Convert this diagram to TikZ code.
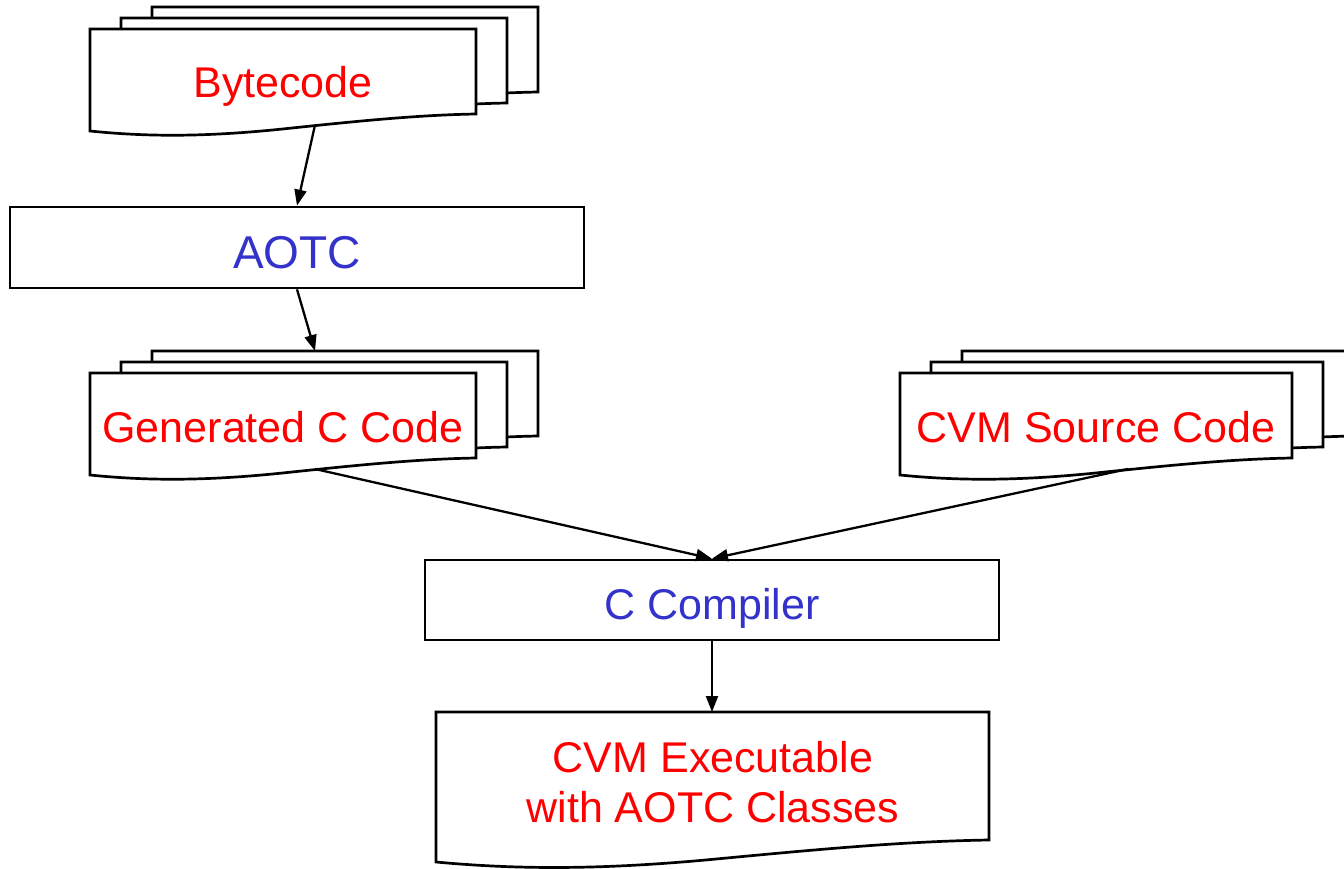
\documentclass[tikz,border=0pt]{standalone}
\usepackage{fontspec}
\setmainfont{Liberation Sans}
\usetikzlibrary{arrows.meta}

\definecolor{labelred}{RGB}{255,0,0}
\definecolor{labelblue}{RGB}{51,51,204}

% one sheet of a document stack: left x, top y, width, left height, right height
\newcommand\docpage[5]{%
  \begin{scope}[shift={(#1,#2)}]
    \pgfmathsetmacro\pgw{#3}%
    \pgfmathsetmacro\pgl{#4}%
    \pgfmathsetmacro\pgr{#5}%
    \pgfmathsetmacro\pgd{#4-#5}%
    \filldraw[page] (0,0) -- (\pgw,0) -- (\pgw,\pgr)
      .. controls ({0.85*\pgw},{\pgr+0.06*\pgd}) and ({0.7*\pgw},{\pgl-0.6*\pgd}) .. ({0.5*\pgw},{\pgl-0.12*\pgd})
      .. controls ({0.3*\pgw},{\pgl+0.35*\pgd}) and ({0.15*\pgw},{\pgl+0.35*\pgd}) .. (0,\pgl) -- cycle;
  \end{scope}}

\tikzset{
  page/.style={draw=black, fill=white, line width=2.7pt, line join=miter},
  procbox/.style={draw=black, fill=white, line width=2.7pt, rectangle, inner sep=0pt},
  doclabel/.style={text=labelred, font=\fontsize{43}{50}\selectfont, anchor=base, align=center},
  proclabel/.style={text=labelblue, font=\fontsize{43}{50}\selectfont},
  flow/.style={draw=black, line width=2.3pt, -{Triangle[length=16pt,width=12pt]}},
}

\begin{document}
\begin{tikzpicture}[x=1pt, y=-1pt]
  \useasboundingbox (0,0) rectangle (1344,869);
  \clip (0,0) rectangle (1344,869);
  \fill[white] (0,0) rectangle (1344,869);

  % Bytecode stack
  \docpage{152}{7}{386}{102}{85}
  \docpage{121}{18}{386}{102}{85}
  \docpage{90}{29}{386}{102}{85}
  \node[doclabel] (bytecode) at (283,98) {Bytecode};
  \coordinate (bytecodeout) at (315,125);

  % AOTC
  \node[procbox, minimum width=574pt, minimum height=81pt] (aotc) at (297,247.5) {};
  \node[proclabel, anchor=base, font=\fontsize{46}{52}\selectfont] (aotclabel) at (297,268) {AOTC};

  % Generated C code stack
  \docpage{152}{351}{386}{102}{85}
  \docpage{121}{362}{386}{102}{85}
  \docpage{90}{373}{386}{102}{85}
  \node[doclabel] (gencode) at (283,442) {Generated C Code};
  \coordinate (genin) at (315,351);
  \coordinate (genout) at (315,469);

  % CVM source code stack
  \docpage{962}{351}{392}{102}{85}
  \docpage{931}{362}{392}{102}{85}
  \docpage{900}{373}{392}{102}{85}
  \node[doclabel] (cvmsrc) at (1096,442) {CVM Source Code};
  \coordinate (cvmout) at (1128,469);

  % C compiler
  \node[procbox, minimum width=574pt, minimum height=80pt] (ccomp) at (712,600) {};
  \node[proclabel, anchor=base] (ccomplabel) at (712,619) {C Compiler};

  % CVM executable
  \docpage{436}{712}{553}{150}{128}
  \coordinate (exein) at (712,712);
  \node[doclabel] (exe) at (713,822) {CVM Executable\\[0pt]with AOTC Classes};

  % connectors
  \draw[flow] (bytecodeout) -- (aotc.north -| 297,0);
  \draw[flow] (aotc.south) -- (genin);
  \draw[flow] (genout) -- (ccomp.north);
  \draw[flow] (cvmout) -- (ccomp.north);
  \draw[flow] (ccomp.south) -- (exein);
\end{tikzpicture}
\end{document}
